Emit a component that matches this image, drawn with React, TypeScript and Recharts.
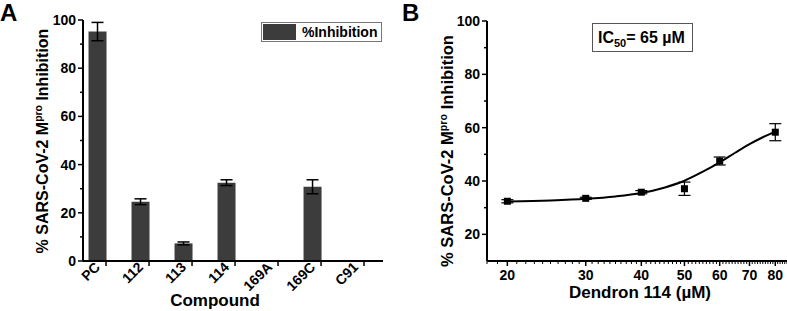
import React from 'react'
import {
  BarChart, Bar, ComposedChart, Line, Scatter, XAxis, YAxis, ErrorBar, Text,
} from 'recharts'

// Panel A: single-dose screen
const COMPOUNDS = ['PC', '112', '113', '114', '169A', '169C', 'C91']
const INHIBITION = [95.2, 24.6, 7.3, 32.5, 0, 30.8, 0.4]
const INHIBITION_ERR = [3.8, 1.2, 0.6, 1.2, 0, 2.9, 0]

// Panel B: dose response for dendron 114
const DOSE = [20, 30, 40, 50, 60, 80]
const DOSE_INH = [32.4, 33.5, 35.8, 37.1, 47.5, 58.3]
const DOSE_ERR = [0.6, 0.4, 0.6, 2.5, 1.5, 3.2]

// fitted dose-response curve
const FIT_X = [20, 25, 30, 35, 40, 45, 50, 55, 60, 65, 70, 75, 80]
const FIT_Y = [32.3, 32.7, 33.3, 34.2, 35.5, 37.5, 40.1, 43.5, 47.0, 50.6, 53.8, 56.4, 58.5]

const A_Y_TICKS = [0, 10, 20, 30, 40, 50, 60, 70, 80, 90, 100]
const B_Y_TICKS = [20, 30, 40, 50, 60, 70, 80, 90, 100]
const B_X_MAJOR = [20, 30, 40, 50, 60, 70, 80]
const B_X_TICKS = Array.from({ length: 68 }, (_, i) => 18 + i)

const FONT = '"Liberation Sans", Arial, sans-serif'
const BAR = '#3c3c3c'

const barData = COMPOUNDS.map((name, i) => ({
  x: i + 1, name, v: INHIBITION[i], e: INHIBITION_ERR[i],
}))
const pointData = DOSE.map((x, i) => ({ x, y: DOSE_INH[i], e: DOSE_ERR[i] }))
const fitData = FIT_X.map((x, i) => ({ x, y: FIT_Y[i] }))

// left axis tick: majors every 20 carry a label, the rest are short marks
function LeftTick(props: any) {
  const { x, y, payload } = props
  const major = payload.value % 20 === 0
  return (
    <g>
      <line x1={x} x2={x - (major ? 5 : 3)} y1={y} y2={y} stroke="#000" strokeWidth={1.5} />
      {major && (
        <text x={x - 7} y={y + 5} textAnchor="end" fontSize={14} fontWeight="bold" fontFamily={FONT} fill="#000">
          {payload.value}
        </text>
      )}
    </g>
  )
}

// slanted compound names; the tick mark sits just right of the bar centre
function CompoundTick(props: any) {
  const { x, y, payload } = props
  const label = COMPOUNDS[Math.round(payload.value) - 1]
  return (
    <g>
      <line x1={x + 9} x2={x + 9} y1={y} y2={y + 5} stroke="#000" strokeWidth={1.5} />
      <Text x={x + 4} y={y + 7} angle={-45} textAnchor="end" verticalAnchor="end" fontSize={14}
        fontWeight="bold" fontFamily={FONT} fill="#000">
        {label}
      </Text>
    </g>
  )
}

function DoseTick(props: any) {
  const { x, y, payload } = props
  const major = B_X_MAJOR.includes(payload.value)
  return (
    <g>
      <line x1={x} x2={x} y1={y} y2={y + (major ? 5 : 3)} stroke="#000" strokeWidth={major ? 1.5 : 1} />
      {major && (
        <text x={x} y={y + 19} textAnchor="middle" fontSize={14} fontWeight="bold" fontFamily={FONT} fill="#000">
          {payload.value}
        </text>
      )}
    </g>
  )
}

function YTitle({ cx, cy, size }: { cx: number; cy: number; size: number }) {
  return (
    <g transform={`translate(${cx},${cy}) rotate(-90)`}>
      <text x={0} y={0} textAnchor="middle" fontSize={size} fontWeight="bold" fontFamily={FONT} fill="#000">
        % SARS-CoV-2 M
        <tspan dy={-6} fontSize={size * 0.65}>pro</tspan>
        <tspan dy={6}> Inhibition</tspan>
      </text>
    </g>
  )
}

const Square = (p: any) => <rect x={p.cx - 3.5} y={p.cy - 3.5} width={7} height={7} fill="#000" />

export default function App() {
  return (
    <div style={{ position: 'absolute', left: 0, top: 0, width: 787, height: 311, background: '#fff' }}>
      <div style={{ position: 'absolute', left: 0, top: 0 }}>
        <BarChart width={390} height={311} data={barData} margin={{ top: 20, right: 7, left: 0, bottom: 0 }}>
          <XAxis type="number" dataKey="x" domain={[0.674, 7.65]} ticks={[1, 2, 3, 4, 5, 6, 7]}
            interval={0} height={50} tickSize={0} tickMargin={0} allowDataOverflow
            axisLine={{ stroke: '#000', strokeWidth: 2 }} tick={CompoundTick} />
          <YAxis type="number" domain={[0, 100]} ticks={A_Y_TICKS} interval={0} width={83}
            tickSize={0} tickMargin={0} axisLine={{ stroke: '#000', strokeWidth: 2 }} tick={LeftTick} />
          <Bar dataKey="v" name="%Inhibition" fill={BAR} barSize={18} isAnimationActive={false}>
            <ErrorBar dataKey="e" width={6} stroke="#000" strokeWidth={1.5} />
          </Bar>
        </BarChart>
      </div>

      <div style={{ position: 'absolute', left: 390, top: 0 }}>
        <ComposedChart width={397} height={311} margin={{ top: 21, right: 0, left: 0, bottom: 0 }}>
          <XAxis type="number" dataKey="x" scale="log" domain={[18, 85]} ticks={B_X_TICKS} interval={0}
            height={50} tickSize={0} tickMargin={0} allowDataOverflow
            axisLine={{ stroke: '#000', strokeWidth: 2 }} tick={DoseTick} />
          <YAxis type="number" domain={[10, 100]} ticks={B_Y_TICKS} interval={0} width={97}
            tickSize={0} tickMargin={0} axisLine={{ stroke: '#000', strokeWidth: 2 }} tick={LeftTick} />
          <Line data={fitData} dataKey="y" type="monotone" stroke="#000" strokeWidth={2} dot={false}
            isAnimationActive={false} />
          <Scatter data={pointData} dataKey="y" shape={Square} isAnimationActive={false}>
            <ErrorBar dataKey="e" direction="y" width={6} stroke="#000" strokeWidth={1.2} />
          </Scatter>
        </ComposedChart>
      </div>

      <svg width={787} height={311} style={{ position: 'absolute', left: 0, top: 0, pointerEvents: 'none' }}>
        <text x={0} y={21} fontSize={24} fontWeight="bold" fontFamily={FONT}>A</text>
        <text x={402} y={21} fontSize={24} fontWeight="bold" fontFamily={FONT}>B</text>
        <YTitle cx={48} cy={141} size={16} />
        <YTitle cx={453} cy={151} size={16.5} />
        <text x={215} y={306} textAnchor="middle" fontSize={17} fontWeight="bold" fontFamily={FONT}>Compound</text>
        <text x={640} y={298} textAnchor="middle" fontSize={17} fontWeight="bold" fontFamily={FONT}>Dendron 114 (µM)</text>
        {/* legend for the bar series */}
        <rect x={261.5} y={22.5} width={120} height={19} fill="#fff" stroke="#777" strokeWidth={1} />
        <rect x={263} y={24} width={33} height={16} fill={BAR} />
        <text x={302} y={37} fontSize={14} fontWeight="bold" fontFamily={FONT}>%Inhibition</text>
        <rect x={592.5} y={23.5} width={100} height={28} fill="#fff" stroke="#555" strokeWidth={1} />
        <text x={598} y={43} fontSize={16} fontWeight="bold" fontFamily={FONT}>
          IC<tspan fontSize={11} dy={4}>50</tspan><tspan dy={-4}>= 65 µM</tspan>
        </text>
      </svg>
    </div>
  )
}
